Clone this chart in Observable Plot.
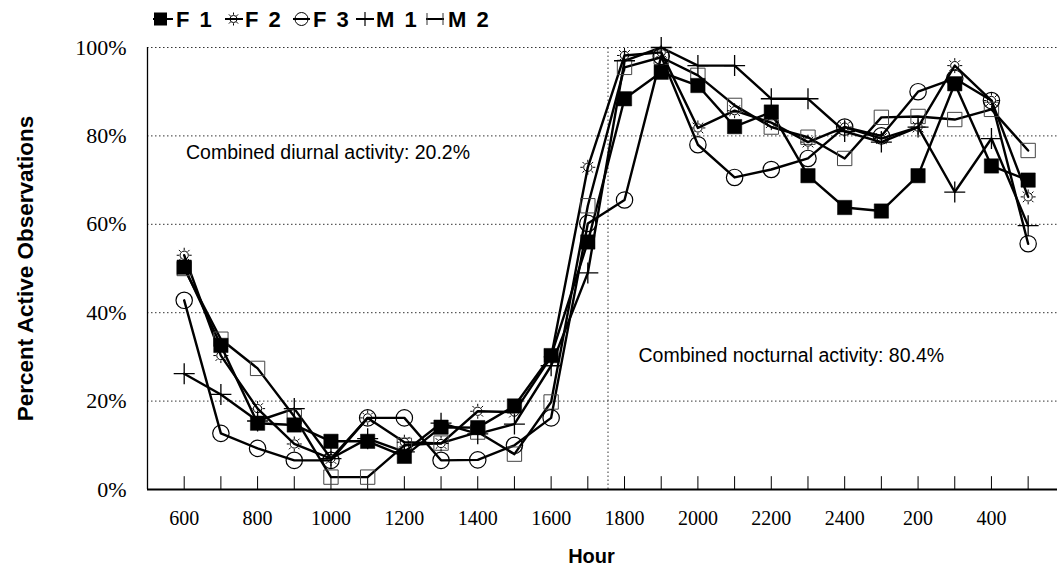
<!DOCTYPE html>
<html><head><meta charset="utf-8">
<script src="https://cdn.jsdelivr.net/npm/d3@7"></script>
<script src="https://cdn.jsdelivr.net/npm/@observablehq/plot@0.6"></script>
<style>
body{margin:0;background:#fff;}
#legend{display:block;}
#chart svg{display:block;}
</style></head><body>
<svg id="legend" width="1059" height="34"></svg>
<div id="chart"></div>
<script>
// ---- data ----
const hours = [600,700,800,900,1000,1100,1200,1300,1400,1500,1600,1700,1800,1900,2000,2100,2200,2300,2400,100,200,300,400,500];
const tickLabels = ["600","800","1000","1200","1400","1600","1800","2000","2200","2400","200","400"];
const seriesNames = ["F 1","F 2","F 3","M 1","M 2"];
const f1 = [50.3,32.6,15,14.6,10.9,10.9,7.5,14.1,14,18.9,30.3,56,88.4,94.4,91.4,82.1,85.4,71,63.8,63,71,91.8,73.2,70];
const f2 = [53,30.3,18.3,10.3,7,16.2,10.7,10.4,17.7,17.5,30,72.9,98.2,98.9,81.8,85.7,83,78.6,82,79.4,82,95.9,88,66.2];
const f3 = [42.8,12.7,9.3,6.6,6.6,16.2,16.2,6.6,6.7,10,16.2,60.2,65.5,98,78,70.6,72.4,74.9,82,80,90,93,88,55.6];
const m1 = [26.2,21.5,15.5,18.3,7,11.5,8.5,15,12.6,14.8,28,49,97,100,95.9,95.9,88.4,88.4,81,78.6,82,67.3,79.4,59.7];
const m2 = [50,34,27.4,16.5,2.8,2.8,10,10.5,13,8,19.8,64.2,95.5,97.8,93.7,86.9,82,79.7,74.9,84.2,84.4,83.7,86,76.7];
const yTicks = [0,20,40,60,80,100];
const gridLines = [20,40,60,80,100];
const annotations = ["Combined diurnal activity: 20.2%","Combined nocturnal activity: 80.4%"];

const seriesValues = [f1,f2,f3,m1,m2];
const table = seriesNames.flatMap((s,k) => seriesValues[k].map((v,i) => ({s, i, hour: hours[i], v})));
const idx = hours.map((h,i) => i);
const tickIdx = tickLabels.map(t => hours.indexOf(Number(t)));

// custom symbols
const sun = {draw(ctx, size){
  const r = Math.sqrt(size/Math.PI), rc = r*0.55;
  ctx.moveTo(rc,0); ctx.arc(0,0,rc,0,2*Math.PI);
  for(let k=0;k<8;k++){const a=k*Math.PI/4; ctx.moveTo(Math.cos(a)*rc*1.2,Math.sin(a)*rc*1.2); ctx.lineTo(Math.cos(a)*r,Math.sin(a)*r);}
}};
const plus = {draw(ctx, size){
  const r = Math.sqrt(size/Math.PI);
  ctx.moveTo(-r,0); ctx.lineTo(r,0); ctx.moveTo(0,-r); ctx.lineTo(0,r);
}};

const sans = "Liberation Sans, Arial, sans-serif";
const serif = "Liberation Serif, Times New Roman, serif";
const bySeries = s => table.filter(d => d.s === s);

const chart = Plot.plot({
  width: 1059, height: 533,
  marginLeft: 147, marginRight: 2, marginTop: 13, marginBottom: 78,
  style: {fontFamily: serif, background: "#fff", color: "#000"},
  x: {type: "linear", domain: [-1, 23.8]},
  y: {domain: [0, 100]},
  marks: [
    Plot.ruleY(gridLines, {stroke: "#333", strokeWidth: 1, strokeDasharray: "1.5,2.5"}),
    Plot.ruleX([11.55], {y1: 0, y2: 100, stroke: "#333", strokeWidth: 1, strokeDasharray: "1.5,2.5"}),
    Plot.ruleX([-1], {y1: 0, y2: 100, stroke: "#000", strokeWidth: 1.3}),
    Plot.ruleX(idx, {y1: 0, y2: 2.9, stroke: "#000", strokeWidth: 1}),
    Plot.ruleY([0], {stroke: "#000", strokeWidth: 2}),
    Plot.axisX({ticks: tickIdx, tickFormat: i => String(hours[i]), tickSize: 0, tickPadding: 21, fontSize: 20, fontFamily: serif, label: null}),
    Plot.axisY({ticks: yTicks, tickFormat: d => d + "%", tickSize: 0, tickPadding: 21, fontSize: 22, fontFamily: serif, label: null}),
    Plot.line(table, {x: "i", y: "v", z: "s", stroke: "#000", strokeWidth: 2.4}),
    Plot.dot(bySeries("M 2"), {x: "i", y: "v", symbol: "square", r: 8.1, fill: "none", stroke: "#444", strokeWidth: 1}),
    Plot.dot(bySeries("M 1"), {x: "i", y: "v", symbol: plus, r: 10.5, fill: "none", stroke: "#000", strokeWidth: 1.3}),
    Plot.dot(bySeries("F 3"), {x: "i", y: "v", symbol: "circle", r: 8.2, fill: "none", stroke: "#000", strokeWidth: 1.2}),
    Plot.dot(bySeries("F 2"), {x: "i", y: "v", symbol: sun, r: 7.5, fill: "none", stroke: "#000", strokeWidth: 1}),
    Plot.dot(bySeries("F 1"), {x: "i", y: "v", symbol: "square", r: 8.1, fill: "#000", stroke: "#000", strokeWidth: 0.5}),
    Plot.text([annotations[0]], {x: 0.05, y: 76.2, text: d => d, textAnchor: "start", fontSize: 19.5, fontFamily: sans, fill: "#000"}),
    Plot.text([annotations[1]], {x: 12.38, y: 30.3, text: d => d, textAnchor: "start", fontSize: 19.5, fontFamily: sans, fill: "#000"}),
    Plot.text(["Hour"], {x: 11.1, y: 0, dy: 67, text: d => d, fontSize: 20, fontWeight: "bold", fontFamily: sans, fill: "#000"}),
    Plot.text(["Percent Active Observations"], {x: -1, y: 50, dx: -122, rotate: -90, text: d => d, fontSize: 22.5, fontWeight: "bold", fontFamily: sans, fill: "#000"})
  ]
});
document.getElementById("chart").appendChild(chart);

// ---- legend ----
const lg = d3.select("#legend");
const items = [
  {name: seriesNames[0], x0: 153, x1: 173, cx: 160.5, tx: 176, kind: "fsq"},
  {name: seriesNames[1], x0: 225, x1: 243, cx: 233.5, tx: 245, kind: "sun"},
  {name: seriesNames[2], x0: 293, x1: 310, cx: 301.5, tx: 313, kind: "circ"},
  {name: seriesNames[3], x0: 356, x1: 374, cx: 365, tx: 376, kind: "plus"},
  {name: seriesNames[4], x0: 426, x1: 444, cx: 435, tx: 448, kind: "osq"}
];
const cy = 19;
items.forEach(it => {
  lg.append("line").attr("x1", it.x0).attr("x2", it.x1).attr("y1", cy).attr("y2", cy).attr("stroke", "#000").attr("stroke-width", 2);
  if (it.kind === "fsq") lg.append("rect").attr("x", it.cx-6.5).attr("y", cy-6.5).attr("width", 13).attr("height", 13).attr("fill", "#000");
  if (it.kind === "sun") lg.append("path").attr("transform", `translate(${it.cx},${cy})`).attr("d", d3.symbol(sun, Math.PI*42)()).attr("fill", "none").attr("stroke", "#000").attr("stroke-width", 1);
  if (it.kind === "circ") lg.append("circle").attr("cx", it.cx).attr("cy", cy).attr("r", 6.5).attr("fill", "none").attr("stroke", "#000").attr("stroke-width", 1);
  if (it.kind === "plus") lg.append("line").attr("x1", it.cx).attr("x2", it.cx).attr("y1", cy-7).attr("y2", cy+7).attr("stroke", "#000").attr("stroke-width", 1.2);
  if (it.kind === "osq") { [it.x0+1, it.x1-1].forEach(x => lg.append("line").attr("x1", x).attr("x2", x).attr("y1", cy-6).attr("y2", cy+6).attr("stroke", "#333").attr("stroke-width", 1)); }
  lg.append("text").attr("x", it.tx).attr("y", cy+8).attr("font-family", sans).attr("font-weight", "bold").attr("font-size", 22).attr("fill", "#000").attr("style", "word-spacing:4px").text(it.name);
});
</script>
</body></html>
